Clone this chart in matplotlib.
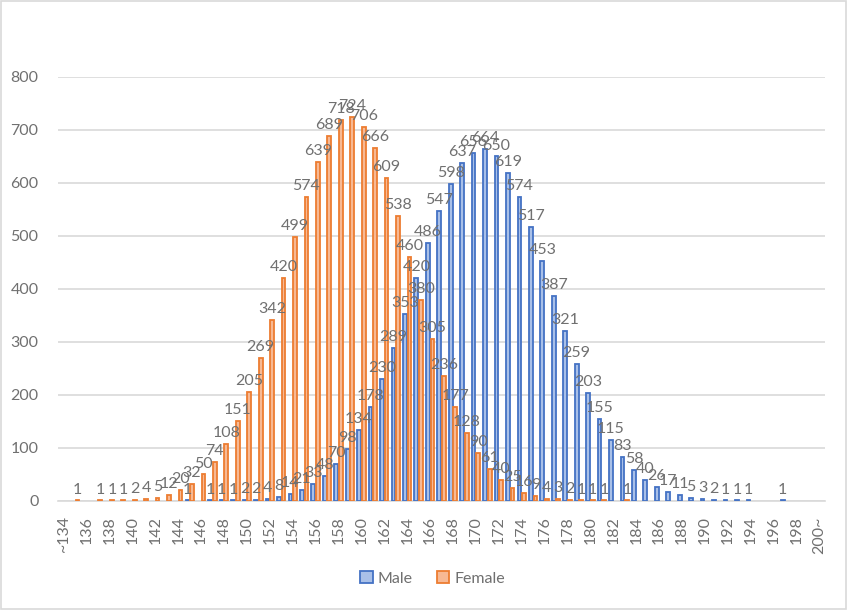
import numpy as np
import matplotlib
matplotlib.use("Agg")
import matplotlib.pyplot as plt
from matplotlib.patches import Rectangle

# Height distribution, ~134 cm to 200~ cm
categories = ["~134"] + [str(h) for h in range(135, 200)] + ["200~"]

male = [0, 0, 0, 0, 0, 0, 0, 0, 0, 0,
	0, 1, 0, 1, 1, 1, 2, 2, 4, 8,
	14, 21, 33, 48, 70, 98, 134, 178, 230, 289,
	353, 420, 486, 547, 598, 637, 656, 664, 650, 619,
	574, 517, 453, 387, 321, 259, 203, 155, 115, 83,
	58, 40, 26, 17, 11, 5, 3, 2, 1, 1,
	1, 0, 0, 1, 0, 0, 0]

female = [0, 1, 0, 1, 1, 1, 2, 4, 5, 12,
	20, 32, 50, 74, 108, 151, 205, 269, 342, 420,
	499, 574, 639, 689, 718, 724, 706, 666, 609, 538,
	460, 380, 305, 236, 177, 128, 90, 61, 40, 25,
	16, 9, 4, 3, 2, 1, 1, 1, 0, 1,
	0, 0, 0, 0, 0, 0, 0, 0, 0, 0,
	0, 0, 0, 0, 0, 0, 0]

plt.rcParams["font.family"] = ["Lato", "DejaVu Sans"]
text_color = "#707070"
grid_color = "#D9D9D9"

fig = plt.figure(figsize=(8.48, 6.10), dpi=100)
ax = fig.add_axes([0.0684, 0.1787, 0.9046, 0.6951])

x = np.arange(len(categories))
w = 0.4
series = [
	(male, -w / 2, "#4472C4", "#A9C0E8", "Male"),
	(female, w / 2, "#ED7D31", "#F7B994", "Female"),
]

for values, off, edge, fill, label in series:
	# empty cells get no bar and no label
	xs = [xi + off for xi, v in zip(x, values) if v > 0]
	vs = [v for v in values if v > 0]
	ax.bar(xs, vs, width=w * 0.82, color=fill, edgecolor=edge, linewidth=1.3, label=label, zorder=3)
	for xi, v in zip(xs, vs):
		ax.annotate(str(v), (xi, v), xytext=(0, 5), textcoords="offset points",
			ha="center", va="baseline", fontsize=11.5, color=text_color, zorder=4)

ax.set_xlim(-0.5, len(categories) - 0.5)
ax.set_ylim(0, 800)
ax.set_yticks(range(0, 801, 100))
ax.set_xticks(x[::2])
ax.set_xticklabels(categories[::2], rotation=90, va="top", ha="center")
ax.tick_params(axis="both", length=0, labelsize=11.5, labelcolor=text_color)
ax.tick_params(axis="y", pad=14)
ax.tick_params(axis="x", pad=11)

ax.yaxis.grid(True, color=grid_color, linewidth=1.2, zorder=0)
for side in ["top", "right", "left"]:
	ax.spines[side].set_visible(False)
ax.spines["bottom"].set_color(grid_color)
ax.spines["bottom"].set_linewidth(1.2)

fig.legend(loc="center", bbox_to_anchor=(0.51, 0.052), ncol=2, frameon=False,
	fontsize=11.5, labelcolor=text_color, handlelength=0.8, handleheight=0.8,
	handletextpad=0.3, columnspacing=1.5)

# chart area border
fig.patches.append(Rectangle((0.001, 0.001), 0.997, 0.997, transform=fig.transFigure,
	fill=False, edgecolor=grid_color, linewidth=1.2))

fig.savefig("out.png", dpi=100)
